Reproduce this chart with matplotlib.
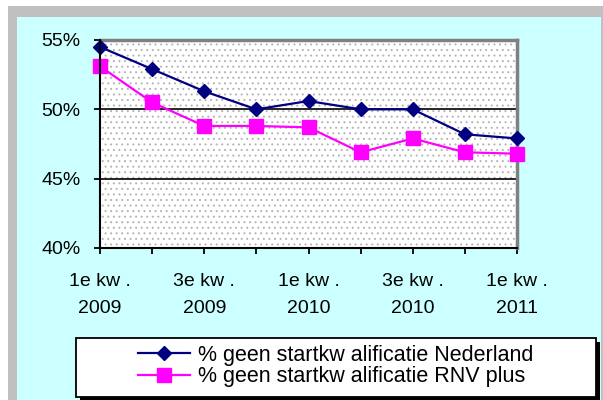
import matplotlib
matplotlib.use("Agg")
import matplotlib.pyplot as plt
from matplotlib.patches import Rectangle
from matplotlib.lines import Line2D

plt.rcParams['font.family'] = ['Liberation Sans', 'DejaVu Sans']
plt.rcParams['hatch.linewidth'] = 0.7

categories = ["1e kw .\n2009", "", "3e kw .\n2009", "", "1e kw .\n2010", "",
              "3e kw .\n2010", "", "1e kw .\n2011"]
nederland = [54.5, 52.9, 51.3, 50.0, 50.6, 50.0, 50.0, 48.2, 47.9]
rnv_plus = [53.1, 50.5, 48.8, 48.8, 48.7, 46.9, 47.9, 46.9, 46.8]
series_names = ["% geen startkw alificatie Nederland", "% geen startkw alificatie RNV plus"]
yticks = [40, 45, 50, 55]

W, H = 603, 400
fig = plt.figure(figsize=(W / 100, H / 100), dpi=100, facecolor="white")

def fx(x):
    return x / W

def fy(y):
    return 1 - y / H

# background frame
fig.patches.append(Rectangle((fx(8), 0), fx(W - 8), fy(6), transform=fig.transFigure,
                             facecolor="#c0c0c0", edgecolor="none", zorder=-5))
fig.patches.append(Rectangle((fx(17), 0), fx(601 - 17), fy(17), transform=fig.transFigure,
                             facecolor="#ccffff", edgecolor="none", zorder=-4))

ax = fig.add_axes([fx(100), fy(248), fx(517 - 100), (248 - 40) / H])
ax.set_zorder(1)
ax.set_facecolor("white")
ax.add_patch(Rectangle((0, 0), 1, 1, transform=ax.transAxes, facecolor="none",
                       edgecolor="#b4b4b4", hatch="...", lw=0, zorder=0))

x = list(range(len(categories)))
ax.plot(x, nederland, color="#000080", lw=1.6, marker="D", markersize=7.5,
        markerfacecolor="#000080", markeredgecolor="#000080", zorder=4, clip_on=False)
ax.plot(x, rnv_plus, color="#ff00ff", lw=1.6, marker="s", markersize=10,
        markerfacecolor="#ff00ff", markeredgecolor="#ff00ff", zorder=3, clip_on=False)

ax.set_xlim(0, len(categories) - 1)
ax.set_ylim(40, 55)
ax.set_yticks(yticks)
ax.set_yticklabels([f"{v}%" for v in yticks])
ax.set_xticks(x)
ax.set_xticklabels(categories, linespacing=1.75)
for v in [45, 50]:
    ax.axhline(v, color="black", lw=1.2, zorder=2)

for side in ["left", "bottom"]:
    ax.spines[side].set_color("black")
    ax.spines[side].set_linewidth(1.5)
    ax.spines[side].set_zorder(5)
for side in ["right", "top"]:
    ax.spines[side].set_color("#808080")
    ax.spines[side].set_linewidth(2.5)

ax.tick_params(axis="both", direction="out", length=4, width=1.3, color="black",
               labelsize=14, labelcolor="black")
ax.tick_params(axis="x", pad=14)
ax.tick_params(axis="y", pad=10)

# legend box with shadow
fig.patches.append(Rectangle((fx(80), fy(401)), fx(600 - 80), (401 - 342) / H,
                             transform=fig.transFigure, facecolor="black",
                             edgecolor="none", zorder=2))
fig.patches.append(Rectangle((fx(76), fy(397)), fx(596 - 76), (397 - 338) / H,
                             transform=fig.transFigure, facecolor="white",
                             edgecolor="black", lw=1.3, zorder=3))
handles = [
    Line2D([], [], color="#000080", lw=1.6, marker="D", markersize=7.5),
    Line2D([], [], color="#ff00ff", lw=1.6, marker="s", markersize=10),
]
leg = fig.legend(handles, series_names, loc="center", bbox_to_anchor=(fx(336), fy(366)),
                 frameon=False, fontsize=15.5, handlelength=2.4, handletextpad=0.4,
                 labelspacing=0.02, borderpad=0)
leg.set_zorder(4)

fig.savefig("out.png", dpi=100, facecolor=fig.get_facecolor())
